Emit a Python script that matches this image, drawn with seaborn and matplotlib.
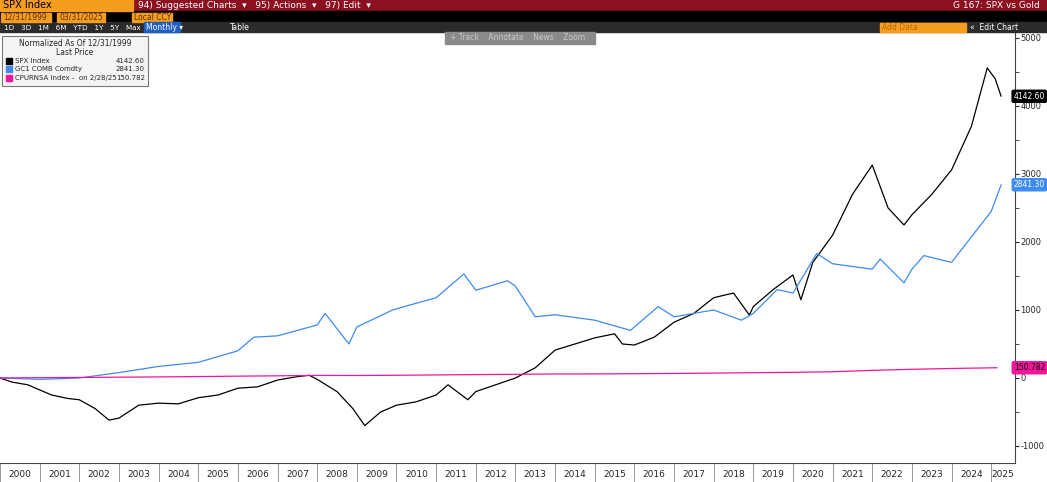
import matplotlib
matplotlib.use("Agg")
import matplotlib.pyplot as plt
import matplotlib.transforms as mtransforms
import seaborn as sns
import pandas as pd
from matplotlib.patches import Rectangle

# approximate readings (fractional year, normalized value)
spx_t = [2000.0, 2000.3, 2000.7, 2001.0, 2001.3, 2001.7, 2002.0, 2002.4, 2002.75, 2003.0,
         2003.5, 2004.0, 2004.5, 2005.0, 2005.5, 2006.0, 2006.5, 2007.0, 2007.5, 2007.8,
         2008.0, 2008.5, 2008.9, 2009.2, 2009.6, 2010.0, 2010.5, 2011.0, 2011.3, 2011.8,
         2012.0, 2012.5, 2013.0, 2013.5, 2014.0, 2014.5, 2015.0, 2015.5, 2015.7, 2016.0,
         2016.5, 2017.0, 2017.5, 2018.0, 2018.5, 2018.9, 2019.0, 2019.5, 2020.0, 2020.2,
         2020.5, 2021.0, 2021.5, 2022.0, 2022.4, 2022.8, 2023.0, 2023.5, 2024.0, 2024.5,
         2024.9, 2025.1, 2025.25]
spx_v = [0, -60, -100, -175, -250, -300, -320, -450, -620, -590,
         -400, -370, -380, -290, -250, -150, -130, -30, 20, 40,
         -20, -200, -450, -700, -500, -400, -350, -250, -100, -320,
         -200, -100, 0, 150, 410, 500, 590, 650, 500, 485,
         600, 820, 950, 1180, 1250, 925, 1050, 1300, 1515, 1150,
         1700, 2100, 2700, 3130, 2500, 2250, 2400, 2700, 3060, 3700,
         4560, 4400, 4142.6]

gold_t = [2000.0, 2001.0, 2002.0, 2003.0, 2004.0, 2005.0, 2006.0, 2006.4, 2007.0, 2008.0,
          2008.2, 2008.8, 2009.0, 2009.9, 2010.5, 2011.0, 2011.7, 2012.0, 2012.8, 2013.0,
          2013.5, 2014.0, 2015.0, 2015.9, 2016.0, 2016.6, 2017.0, 2018.0, 2018.7, 2019.0,
          2019.6, 2020.0, 2020.6, 2021.0, 2022.0, 2022.2, 2022.8, 2023.0, 2023.3, 2024.0,
          2024.4, 2024.8, 2025.0, 2025.25]
gold_v = [0, -20, 0, 80, 170, 230, 400, 600, 620, 780,
          950, 500, 750, 1000, 1100, 1180, 1530, 1290, 1430, 1350,
          900, 930, 850, 700, 750, 1050, 900, 1000, 850, 950,
          1300, 1250, 1830, 1680, 1600, 1750, 1400, 1600, 1800, 1700,
          2000, 2300, 2450, 2841.3]

cpi_t = [2000, 2001, 2002, 2003, 2004, 2005, 2006, 2007, 2008, 2009, 2010, 2011, 2012,
         2013, 2014, 2015, 2016, 2017, 2018, 2019, 2020, 2021, 2022, 2023, 2024, 2025.15]
cpi_v = [0, 5, 8, 12, 16, 21, 27, 32, 38, 37, 40, 45, 50, 54, 59, 60, 63, 67, 72,
         78, 83, 92, 112, 128, 140, 150.782]

years = list(range(2000, 2026))

df = pd.concat([
    pd.DataFrame({"t": spx_t, "v": spx_v, "s": "SPX Index"}),
    pd.DataFrame({"t": gold_t, "v": gold_v, "s": "GC1 COMB Comdty"}),
    pd.DataFrame({"t": cpi_t, "v": cpi_v, "s": "CPURNSA Index"}),
])
colors = {"SPX Index": "#000000", "GC1 COMB Comdty": "#3d8bf0", "CPURNSA Index": "#f0169a"}

sns.set_style("white")
W, H = 1047, 482
fig = plt.figure(figsize=(W / 100, H / 100), dpi=100)
fig.patch.set_facecolor("white")

ax = fig.add_axes([0, 19 / H, 1015 / W, (463 - 32) / H])
sns.lineplot(data=df, x="t", y="v", hue="s", palette=colors, linewidth=0.9,
             legend=False, ax=ax, estimator=None, sort=False)
ax.set_xlim(2000, 2025.6)
ax.set_ylim(-1250, 5088)
ax.yaxis.tick_right()
ax.set_yticks([-1000, 0, 1000, 2000, 3000, 4000, 5000])
ax.set_yticklabels(["-1000", "0", "1000", "2000", "3000", "4000", "5000"], fontsize=6)
ax.set_yticks([-500, 500, 1500, 2500, 3500, 4500], minor=True)
ax.tick_params(axis="y", which="both", direction="out", length=3, pad=1, right=True)
ax.set_xticks([])
ax.set_xlabel("")
ax.set_ylabel("")
for s in ["top", "left", "bottom"]:
    ax.spines[s].set_visible(False)
ax.spines["right"].set_color("#444444")

# right-side value tags
tr = mtransforms.blended_transform_factory(fig.transFigure, ax.transData)
for label, val, col, fc in [("4142.60", 4142.6, "#000000", "white"),
                            ("2841.30", 2841.3, "#3d8bf0", "white"),
                            ("150.782", 150.782, "#f0169a", "black")]:
    fig.text(1045 / W, val, label, transform=tr, ha="right", va="center", fontsize=5.5,
             color=fc, bbox=dict(boxstyle="round,pad=0.2", fc=col, ec=col), zorder=5)

# bottom year band
bx = fig.add_axes([0, 0, 1015 / W, 19 / H])
bx.set_xlim(2000, 2025.6)
bx.set_ylim(0, 1)
bx.set_facecolor("white")
for y in years:
    bx.axvline(y, color="#888888", lw=0.6)
    bx.text(min(y + 0.5, 2025.3), 0.4, str(y), ha="center", va="center", fontsize=6.5)
bx.axhline(1, color="#444444", lw=0.8)
bx.set_xticks([])
bx.set_yticks([])
for s in bx.spines.values():
    s.set_visible(False)

# header bars
def bar(y0, h, color):
    fig.patches.append(Rectangle((0, 1 - (y0 + h) / H), 1, h / H, transform=fig.transFigure,
                                 color=color, zorder=0))
bar(0, 11, "#8b1020")
bar(11, 11, "#000000")
bar(22, 10, "#2b2b2b")
fig.patches.append(Rectangle((0, 1 - 11 / H), 133 / W, 11 / H, transform=fig.transFigure,
                             color="#f59d1e", zorder=1))
fig.text(3 / W, 1 - 5.5 / H, "SPX Index", fontsize=7, va="center", color="black")
fig.text(138 / W, 1 - 5.5 / H, "94) Suggested Charts  ▾   95) Actions  ▾   97) Edit  ▾",
         fontsize=6.5, va="center", color="white")
fig.text(1040 / W, 1 - 5.5 / H, "G 167: SPX vs Gold", fontsize=6.5, va="center", ha="right", color="white")
for x0, w, txt in [(1, 50, "12/31/1999"), (57, 48, "03/31/2025"), (132, 40, "Local CCY")]:
    fig.patches.append(Rectangle((x0 / W, 1 - 22 / H), w / W, 9 / H, transform=fig.transFigure,
                                 color="#f59d1e", zorder=1))
    fig.text((x0 + 2) / W, 1 - 17.5 / H, txt, fontsize=5.5, va="center", color="#5a3000")
fig.patches.append(Rectangle((880 / W, 1 - 32 / H), 86 / W, 9 / H, transform=fig.transFigure,
                             color="#f59d1e", zorder=1))
fig.text(882 / W, 1 - 27.5 / H, "Add Data", fontsize=5.5, va="center", color="#b86a00")
fig.text(970 / W, 1 - 27.5 / H, "«  Edit Chart", fontsize=5.5, va="center", color="white")
fig.text(4 / W, 1 - 27.5 / H, "1D   3D   1M   6M   YTD   1Y   5Y   Max", fontsize=5.2,
         va="center", color="white")
fig.patches.append(Rectangle((144 / W, 1 - 32 / H), 36 / W, 10 / H, transform=fig.transFigure,
                             color="#1f5fbf", zorder=1))
fig.text(146 / W, 1 - 27.5 / H, "Monthly ▾", fontsize=5.5, va="center", color="white", zorder=2)
fig.text(230 / W, 1 - 27.5 / H, "Table", fontsize=5.5, va="center", color="white")
fig.patches.append(Rectangle((445 / W, 1 - 44 / H), 150 / W, 12 / H, transform=fig.transFigure,
                             color="#8a8a8a", zorder=1))
fig.text(450 / W, 1 - 38 / H, "+ Track    Annotate    News    Zoom", fontsize=5.5,
         va="center", color="#c8c8c8")

# legend box
fig.patches.append(Rectangle((2 / W, 1 - 86 / H), 146 / W, 50 / H, transform=fig.transFigure,
                             fc="#f4f4f4", ec="#777777", lw=0.8, zorder=2))
fig.text(75 / W, 1 - 43 / H, "Normalized As Of 12/31/1999", fontsize=5.5, ha="center", va="center", zorder=3)
fig.text(75 / W, 1 - 52 / H, "Last Price", fontsize=5.5, ha="center", va="center", zorder=3)
for i, (name, val, col) in enumerate([("SPX Index", "4142.60", "#000000"),
                                      ("GC1 COMB Comdty", "2841.30", "#3d8bf0"),
                                      ("CPURNSA Index -  on 2/28/25", "150.782", "#f0169a")]):
    yy = 1 - (61 + 8.5 * i) / H
    fig.patches.append(Rectangle((6 / W, yy - 3 / H), 6 / W, 6 / H, transform=fig.transFigure,
                                 color=col, zorder=3))
    fig.text(15 / W, yy, name, fontsize=5, va="center", zorder=3)
    fig.text(145 / W, yy, val, fontsize=5, va="center", ha="right", zorder=3)

fig.savefig("out.png", dpi=100)
